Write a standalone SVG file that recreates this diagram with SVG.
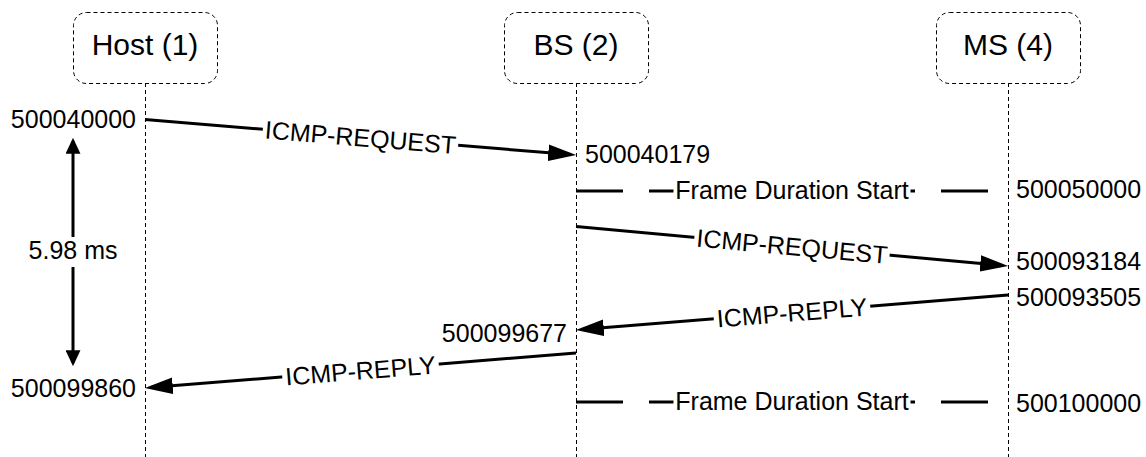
<svg xmlns="http://www.w3.org/2000/svg" width="1146" height="457" viewBox="0 0 1146 457">
  <style>
    text { font-family: "Liberation Sans", Arial, sans-serif; fill: #000; }
    .title { font-size: 30px; text-anchor: middle; }
    .ts { font-size: 25px; }
    .lbl { font-size: 25px; text-anchor: middle; }
    .box { fill: #fff; stroke: #000; stroke-width: 1; stroke-dasharray: 4 3; }
    .life { stroke: #000; stroke-width: 1; stroke-dasharray: 4 3; fill: none; }
    .msg { stroke: #000; stroke-width: 3; fill: none; marker-end: url(#head); }
    .frame { stroke: #000; stroke-width: 3; fill: none; stroke-dasharray: 47 26; }
    .bg { fill: #fff; }
  </style>
  <defs>
    <marker id="head" markerUnits="userSpaceOnUse" markerWidth="28" markerHeight="18" viewBox="0 0 27 16" refX="22" refY="8" orient="auto">
      <path d="M0,0 L27,8 L0,16 z" fill="#000"/>
    </marker>
    <marker id="small" markerUnits="userSpaceOnUse" markerWidth="16" markerHeight="15" viewBox="0 0 15 14" refX="12" refY="7" orient="auto-start-reverse">
      <path d="M0,0 L15,7 L0,14 z" fill="#000"/>
    </marker>
  </defs>

  <!-- lifelines -->
  <g id="lifelines">
    <line class="life" x1="145.5" y1="83" x2="145.5" y2="457"/>
    <line class="life" x1="576.5" y1="83" x2="576.5" y2="457"/>
    <line class="life" x1="1008.5" y1="83" x2="1008.5" y2="457"/>
  </g>

  <!-- participants -->
  <g id="host">
    <rect class="box" x="73.5" y="12.5" width="144" height="71" rx="13"/>
    <text class="title" x="145" y="55">Host (1)</text>
  </g>
  <g id="bs">
    <rect class="box" x="504.5" y="12.5" width="144" height="71" rx="13"/>
    <text class="title" x="576" y="55">BS (2)</text>
  </g>
  <g id="ms">
    <rect class="box" x="936.5" y="12.5" width="144" height="71" rx="13"/>
    <text class="title" x="1008" y="55">MS (4)</text>
  </g>

  <!-- messages and frame markers -->
  <g id="connectors">
    <line class="msg" x1="145" y1="119.5" x2="571" y2="154.6"/>
    <line class="msg" x1="576" y1="226.5" x2="1003" y2="265.5"/>
    <line class="msg" x1="1008" y1="295" x2="581" y2="329.6"/>
    <line class="msg" x1="576" y1="353" x2="150" y2="387.6"/>
    <line class="frame" x1="576" y1="191" x2="1008" y2="191"/>
    <line class="frame" x1="576" y1="402" x2="1008" y2="402"/>
    <line stroke="#000" stroke-width="3" x1="73" y1="141" x2="73" y2="363" marker-start="url(#small)" marker-end="url(#small)"/>
  </g>

  <!-- connector labels -->
  <g id="labels">
    <g transform="translate(360.5,137.25) rotate(4.71)">
      <rect class="bg" x="-98" y="-11" width="196" height="22"/>
      <text class="lbl" x="0" y="9">ICMP-REQUEST</text>
    </g>
    <g transform="translate(792,246.25) rotate(5.22)">
      <rect class="bg" x="-98" y="-11" width="196" height="22"/>
      <text class="lbl" x="0" y="9">ICMP-REQUEST</text>
    </g>
    <g transform="translate(792,312.5) rotate(-4.63)">
      <rect class="bg" x="-78.5" y="-11" width="157" height="22"/>
      <text class="lbl" x="0" y="9">ICMP-REPLY</text>
    </g>
    <g transform="translate(360.5,370.5) rotate(-4.64)">
      <rect class="bg" x="-78.5" y="-11" width="157" height="22"/>
      <text class="lbl" x="0" y="9">ICMP-REPLY</text>
    </g>
    <rect class="bg" x="673.5" y="179" width="237" height="24"/>
    <text class="lbl" x="792" y="198.5">Frame Duration Start</text>
    <rect class="bg" x="673.5" y="390" width="237" height="24"/>
    <text class="lbl" x="792" y="409.5">Frame Duration Start</text>
    <rect class="bg" x="28" y="237" width="90" height="30"/>
    <text class="lbl" x="73" y="259">5.98 ms</text>
  </g>

  <!-- timestamps -->
  <g id="timestamps">
    <text class="ts" x="136" y="127.5" text-anchor="end">500040000</text>
    <text class="ts" x="585" y="162.5">500040179</text>
    <text class="ts" x="1016" y="197.5">500050000</text>
    <text class="ts" x="1016" y="270">500093184</text>
    <text class="ts" x="1016" y="305.5">500093505</text>
    <text class="ts" x="567" y="341.5" text-anchor="end">500099677</text>
    <text class="ts" x="136" y="396.5" text-anchor="end">500099860</text>
    <text class="ts" x="1016" y="411.5">500100000</text>
  </g>
</svg>
